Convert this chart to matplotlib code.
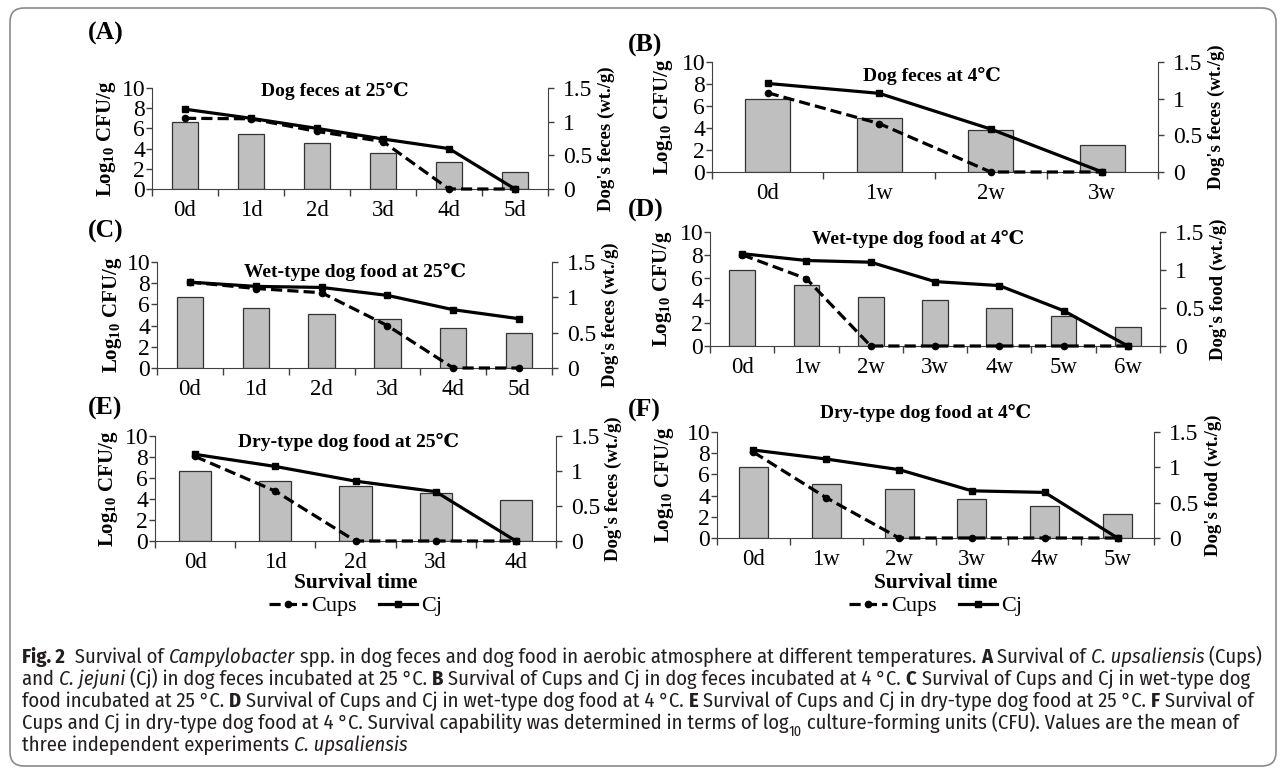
import numpy as np
import matplotlib
matplotlib.use('Agg')
import matplotlib.pyplot as plt
from matplotlib import font_manager
from matplotlib.patches import FancyBboxPatch
from matplotlib.transforms import IdentityTransform

W, H = 1284, 768
plt.rcParams['font.family'] = ['Liberation Serif', 'DejaVu Serif']
plt.rcParams['mathtext.fontset'] = 'custom'
plt.rcParams['mathtext.rm'] = 'Liberation Serif'
plt.rcParams['mathtext.it'] = 'Liberation Serif:italic'
plt.rcParams['mathtext.bf'] = 'Liberation Serif:bold'

# ---------------- data ----------------
cats_A = ['0d', '1d', '2d', '3d', '4d', '5d']
cj_A = [7.9, 7.0, 6.0, 4.95, 4.0, 0.0]
cups_A = [7.0, 6.95, 5.7, 4.7, 0.0, 0.0]
wt_A = [1.0, 0.81, 0.69, 0.53, 0.40, 0.25]

cats_B = ['0d', '1w', '2w', '3w']
cj_B = [8.05, 7.15, 3.9, 0.0]
cups_B = [7.2, 4.4, 0.0, 0.0]
wt_B = [1.0, 0.73, 0.57, 0.37]

cats_C = ['0d', '1d', '2d', '3d', '4d', '5d']
cj_C = [8.1, 7.7, 7.6, 6.85, 5.5, 4.65]
cups_C = [8.1, 7.5, 7.1, 4.0, 0.0, 0.0]
wt_C = [1.0, 0.85, 0.77, 0.69, 0.56, 0.49]

cats_D = ['0d', '1w', '2w', '3w', '4w', '5w', '6w']
cj_D = [8.1, 7.5, 7.35, 5.65, 5.3, 3.1, 0.0]
cups_D = [8.0, 5.9, 0.0, 0.0, 0.0, 0.0, 0.0]
wt_D = [1.0, 0.80, 0.65, 0.60, 0.50, 0.40, 0.25]

cats_E = ['0d', '1d', '2d', '3d', '4d']
cj_E = [8.25, 7.1, 5.7, 4.7, 0.0]
cups_E = [8.05, 4.75, 0.0, 0.0, 0.0]
wt_E = [1.0, 0.86, 0.78, 0.69, 0.58]

cats_F = ['0d', '1w', '2w', '3w', '4w', '5w']
cj_F = [8.3, 7.45, 6.45, 4.45, 4.3, 0.0]
cups_F = [8.1, 3.8, 0.0, 0.0, 0.0, 0.0]
wt_F = [1.0, 0.76, 0.70, 0.55, 0.45, 0.34]

titles = ['Dog feces at 25℃', 'Dog feces at 4℃', 'Wet-type dog food at 25℃',
          'Wet-type dog food at 4℃', 'Dry-type dog food at 25℃', 'Dry-type dog food at 4℃']
right_labels = ["Dog's feces (wt./g)", "Dog's feces (wt./g)", "Dog's feces (wt./g)",
                "Dog's food (wt./g)", "Dog's feces (wt./g)", "Dog's food (wt./g)"]
letters = ['(A)', '(B)', '(C)', '(D)', '(E)', '(F)']
series_names = ['Cups', 'Cj']
right_ticks = [0, 0.5, 1, 1.5]
right_ticklabels = ['0', '0.5', '1', '1.5']
left_ticks = [0, 2, 4, 6, 8, 10]

# ---------------- layout (pixels from top-left) ----------------
layout = {
    'A': dict(box=(152, 548, 88, 189), title=(335, 91), letter=(88, 33), llab=106, rlab=606),
    'B': dict(box=(712, 1158, 62, 172), title=(932, 76), letter=(628, 45), llab=664, rlab=1216),
    'C': dict(box=(157, 552, 262, 368), title=(355, 272), letter=(88, 231), llab=113, rlab=610),
    'D': dict(box=(710, 1160, 232, 346), title=(918, 239), letter=(628, 210), llab=663, rlab=1218),
    'E': dict(box=(155, 556, 436, 541), title=(348, 442), letter=(88, 408), llab=108, rlab=613),
    'F': dict(box=(717, 1154, 432, 538), title=(926, 413), letter=(628, 410), llab=665, rlab=1213),
}

fig = plt.figure(figsize=(W / 100, H / 100), dpi=100)
fig.patch.set_facecolor('white')
ID = IdentityTransform()

# rounded border
border = FancyBboxPatch((10, 2), 1266, 758, boxstyle='round,pad=0,rounding_size=14',
                        transform=ID, facecolor='none', edgecolor='#8a8a8a', linewidth=1.2)
fig.add_artist(border)

SP = '#404040'


def panel(key, idx, cats, cj, cups, wt, bottom_row=False):
    L = layout[key]
    l, r, t, b = L['box']
    ax = fig.add_axes([l / W, 1 - b / H, (r - l) / W, (b - t) / H])
    ax2 = ax.twinx()
    n = len(cats)
    x = np.arange(n) + 0.5
    ax2.bar(x, wt, width=0.4, color='#BFBFBF', edgecolor='#333333', linewidth=0.9, zorder=1)
    ax2.set_ylim(0, 1.5)
    ax2.set_yticks(right_ticks)
    ax2.set_yticklabels(right_ticklabels)
    l1, = ax.plot(x, cups, ls=(0, (3.5, 1.6)), color='black', lw=2.3, marker='o', ms=4.5,
                  clip_on=False, zorder=3)
    l2, = ax.plot(x, cj, ls='-', color='black', lw=2.3, marker='s', ms=4.5,
                  clip_on=False, zorder=4)
    ax.set_zorder(ax2.get_zorder() + 1)
    ax.patch.set_visible(False)
    ax.set_xlim(0, n)
    ax.set_ylim(0, 10)
    ax.set_yticks(left_ticks)
    ax.set_xticks(np.arange(n + 1))
    ax.set_xticklabels([])
    ax.set_xticks(x, minor=True)
    ax.set_xticklabels(cats, minor=True)
    ax.tick_params(axis='x', which='major', direction='out', length=5, width=1, color=SP)
    ax.tick_params(axis='x', which='minor', length=0, pad=8, labelsize=16.5)
    ax.tick_params(axis='y', direction='out', length=4, width=1, color=SP, pad=1, labelsize=17)
    ax2.tick_params(axis='y', direction='out', length=4, width=1, color=SP, pad=7, labelsize=17)
    for s in ['top', 'right']:
        ax.spines[s].set_visible(False)
    for s in ['top', 'left', 'bottom']:
        ax2.spines[s].set_visible(False)
    ax.spines['left'].set_color(SP)
    ax.spines['bottom'].set_color(SP)
    ax2.spines['right'].set_color(SP)
    # labels
    ax.set_ylabel(r'Log$_\mathbf{10}$ CFU/g', fontsize=15, fontweight='bold')
    ax.yaxis.set_label_coords((L['llab'] - l) / (r - l), 0.5)
    ax.yaxis.label.set_verticalalignment('center')
    ax2.set_ylabel(right_labels[idx], fontsize=13.5, fontweight='bold')
    ax2.yaxis.set_label_coords((L['rlab'] - l) / (r - l), 0.5)
    ax2.yaxis.label.set_verticalalignment('center')
    tx, ty = L['title']
    fig.text(tx, H - ty, titles[idx], transform=ID, ha='center', va='center',
             fontsize=14, fontweight='bold')
    lx, ly = L['letter']
    fig.text(lx, H - ly, letters[idx], transform=ID, ha='left', va='center',
             fontsize=18.5, fontweight='bold')
    if bottom_row:
        cx = (l + r) / 2
        fig.text(cx, H - 583, 'Survival time', transform=ID, ha='center', va='center',
                 fontsize=15.5, fontweight='bold')
        ax.legend([l1, l2], series_names, loc='center', bbox_to_anchor=(cx, H - 606),
                  bbox_transform=ID, ncol=2, frameon=False, fontsize=16,
                  handlelength=1.7, columnspacing=1.0, handletextpad=0.2, borderpad=0)
    return ax


panel('A', 0, cats_A, cj_A, cups_A, wt_A)
panel('B', 1, cats_B, cj_B, cups_B, wt_B)
panel('C', 2, cats_C, cj_C, cups_C, wt_C)
panel('D', 3, cats_D, cj_D, cups_D, wt_D)
panel('E', 4, cats_E, cj_E, cups_E, wt_E, bottom_row=True)
panel('F', 5, cats_F, cj_F, cups_F, wt_F, bottom_row=True)

# ---------------- caption ----------------
names = {f.name for f in font_manager.fontManager.ttflist}
cap_font = 'Roboto'
for cand in ['Fira Sans Condensed', 'Roboto Condensed', 'Liberation Sans Narrow',
             'Open Sans Condensed', 'Roboto']:
    if cand in names:
        cap_font = cand
        break

caption = [
    [('Fig. 2', 'b'), ('  Survival of ', 'r'), ('Campylobacter', 'i'),
     (' spp. in dog feces and dog food in aerobic atmosphere at different temperatures. ', 'r'),
     ('A', 'b'), (' Survival of ', 'r'), ('C. upsaliensis', 'i'), (' (Cups)', 'r')],
    [('and ', 'r'), ('C. jejuni', 'i'), (' (Cj) in dog feces incubated at 25 °C. ', 'r'), ('B', 'b'),
     (' Survival of Cups and Cj in dog feces incubated at 4 °C. ', 'r'), ('C', 'b'),
     (' Survival of Cups and Cj in wet-type dog', 'r')],
    [('food incubated at 25 °C. ', 'r'), ('D', 'b'),
     (' Survival of Cups and Cj in wet-type dog food at 4 °C. ', 'r'), ('E', 'b'),
     (' Survival of Cups and Cj in dry-type dog food at 25 °C. ', 'r'), ('F', 'b'),
     (' Survival of', 'r')],
    [('Cups and Cj in dry-type dog food at 4 °C. Survival capability was determined in terms of log', 'r'),
     ('10', 'sub'), (' culture-forming units (CFU). Values are the mean of', 'r')],
    [('three independent experiments ', 'r'), ('C. upsaliensis', 'i')],
]
baselines = [663, 685, 707, 729, 751]

renderer = fig.canvas.get_renderer()


def fprops(sty, size):
    fp = font_manager.FontProperties(family=cap_font, size=size)
    if sty == 'b':
        fp.set_weight('bold')
    elif sty == 'i':
        fp.set_style('italic')
    elif sty == 'sub':
        fp.set_size(size * 0.7)
    return fp


def twidth(s, fp):
    w1 = renderer.get_text_width_height_descent('|' + s + '|', fp, ismath=False)[0]
    w0 = renderer.get_text_width_height_descent('||', fp, ismath=False)[0]
    return w1 - w0


base = 10.0
w_line1 = sum(twidth(s, fprops(st, base)) for s, st in caption[0])
cap_size = base * 1240.0 / w_line1

for runs, by in zip(caption, baselines):
    xx = 22.0
    for s, st in runs:
        fp = fprops(st, cap_size)
        yy = H - by
        if st == 'sub':
            yy -= cap_size * 0.45
        fig.text(xx, yy, s, transform=ID, ha='left', va='baseline', fontproperties=fp,
                 color='#231F20')
        xx += twidth(s, fp)

fig.savefig('out.png', dpi=100)
